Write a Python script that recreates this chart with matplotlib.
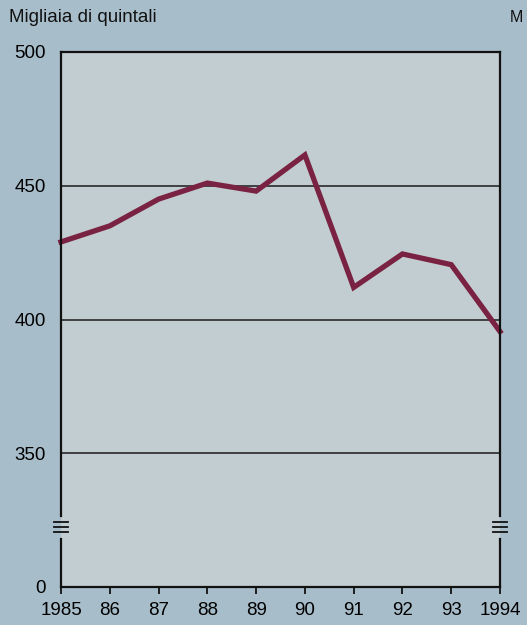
import matplotlib
matplotlib.use("Agg")
import matplotlib.pyplot as plt
from matplotlib.lines import Line2D

years = [1985, 1986, 1987, 1988, 1989, 1990, 1991, 1992, 1993, 1994]
values = [429, 435, 445, 451, 448, 461.5, 412, 424.5, 420.5, 395.5]
xtick_labels = ["1985", "86", "87", "88", "89", "90", "91", "92", "93", "1994"]
# axis is broken: the bottom tick "0" sits where 300 would be
ytick_pos = [300, 350, 400, 450, 500]
ytick_labels = ["0", "350", "400", "450", "500"]
gridlines = [350, 400, 450]

plt.rcParams['font.family'] = ['Liberation Sans', 'DejaVu Sans']

fig = plt.figure(figsize=(5.27, 6.25), dpi=100)
fig.patch.set_facecolor("#a8bdca")
ax = fig.add_axes([61/527, 1-587/625, (500-61)/527, (587-52)/625])
ax.set_facecolor("#c2cdd1")

ax.set_xlim(years[0], years[-1])
ax.set_ylim(300, 500)

for g in gridlines:
    ax.axhline(g, color="#1a1a1a", lw=1.1, zorder=1)

ax.plot(years, values, color="#7a2242", lw=3.8, solid_joinstyle="miter", zorder=3, clip_on=False)

for s in ["left", "right"]:
    ax.spines[s].set_visible(False)
for s in ["top", "bottom"]:
    ax.spines[s].set_linewidth(1.6)
    ax.spines[s].set_color("#111111")

# side spines with a break
brk_lo, brk_hi = 318.0, 326.5
for xa in [0, 1]:
    for (y0, y1) in [(300, brk_lo), (brk_hi, 500)]:
        ax.add_line(Line2D([xa, xa], [y0, y1], transform=ax.get_yaxis_transform(),
                           color="#111111", lw=1.6, clip_on=False, zorder=4))
    for yy in [320.5, 322.4, 324.3]:
        ax.add_line(Line2D([xa - 0.017, xa + 0.017], [yy, yy], transform=ax.get_yaxis_transform(),
                           color="#111111", lw=1.3, clip_on=False, zorder=4))

ax.set_xticks(years)
ax.set_xticklabels(xtick_labels, fontsize=13.5)
ax.set_yticks(ytick_pos)
ax.set_yticklabels(ytick_labels, fontsize=13.5)
ax.tick_params(axis="x", direction="out", length=5, width=1.3, pad=6, color="#111111")
ax.tick_params(axis="y", length=0, pad=11)

fig.text(9/527, 1-18/625, "Migliaia di quintali", fontsize=13.5, va="center", ha="left", color="#111111")
fig.text(510/527, 1-18/625, "M", fontsize=11.5, va="center", ha="left", color="#111111")

fig.savefig("out.png", dpi=100, facecolor=fig.get_facecolor())
